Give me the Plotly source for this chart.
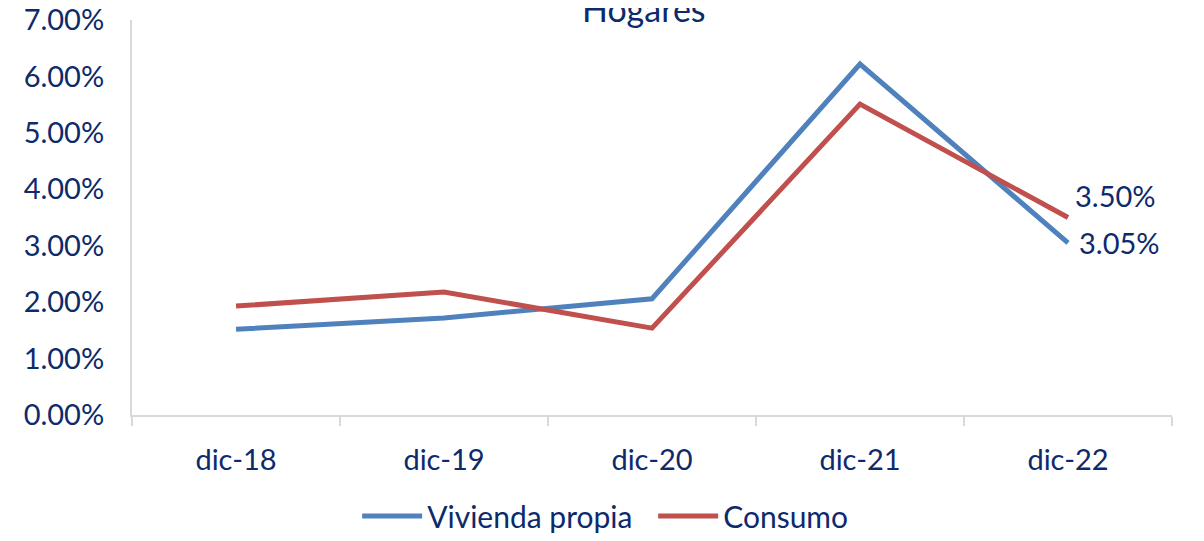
import plotly.graph_objects as go

categories = ["dic-18", "dic-19", "dic-20", "dic-21", "dic-22"]
vivienda = [0.0152, 0.0172, 0.0206, 0.0622, 0.0305]
consumo = [0.0193, 0.0218, 0.0154, 0.0551, 0.0350]
y_ticks = [0, 0.01, 0.02, 0.03, 0.04, 0.05, 0.06, 0.07]

NAVY = "#0d2a6b"
FONT = "Lato"
FS = 29

fig = go.Figure()
fig.add_trace(go.Scatter(
    x=categories, y=vivienda, name="Vivienda propia", mode="lines",
    line=dict(color="#4f81bd", width=5), cliponaxis=False,
))
fig.add_trace(go.Scatter(
    x=categories, y=consumo, name="Consumo", mode="lines",
    line=dict(color="#c0504d", width=5), cliponaxis=False,
))

# data labels on last points
fig.add_annotation(x=categories[-1], y=consumo[-1], text=f"{consumo[-1]*100:.2f}%",
                   xanchor="left", yanchor="middle", xshift=5, yshift=22,
                   showarrow=False, font=dict(family=FONT, size=FS, color=NAVY))
fig.add_annotation(x=categories[-1], y=vivienda[-1], text=f"{vivienda[-1]*100:.2f}%",
                   xanchor="left", yanchor="middle", xshift=9, yshift=0,
                   showarrow=False, font=dict(family=FONT, size=FS, color=NAVY))

fig.add_annotation(
    text="Hogares", xref="paper", yref="paper", x=0.492, y=1.0,
    xanchor="center", yanchor="bottom", yshift=-11, showarrow=False,
    font=dict(family=FONT, size=34, color=NAVY),
)

fig.update_layout(
    width=1204, height=541,
    margin=dict(l=124, r=40, t=12, b=134, autoexpand=False),
    paper_bgcolor="white", plot_bgcolor="white",
    font=dict(family=FONT, size=FS, color=NAVY),
    showlegend=True,
    legend=dict(orientation="h", xref="container", x=0.29, xanchor="left",
                yref="container", y=0.061, yanchor="middle",
                font=dict(family=FONT, size=30, color=NAVY), itemwidth=60,
                entrywidth=221),
    xaxis=dict(type="category", range=[-0.5, 4.5], showline=True, linecolor="#d9d9d9",
               linewidth=2, showgrid=False, ticks="outside", tickson="boundaries",
               ticklen=9, tickwidth=2, tickcolor="#d9d9d9", ticklabelstandoff=18,
               tickfont=dict(family=FONT, size=FS, color=NAVY), zeroline=False,
               automargin=False),
    yaxis=dict(range=[0, 0.07], tickvals=y_ticks, tickformat=".2%", showline=True,
               linecolor="#d9d9d9", linewidth=2, showgrid=False, zeroline=False,
               ticks="", ticklabelstandoff=20, automargin=False,
               ticklabeloverflow="allow",
               tickfont=dict(family=FONT, size=FS, color=NAVY)),
)

fig.write_html("out.html")
